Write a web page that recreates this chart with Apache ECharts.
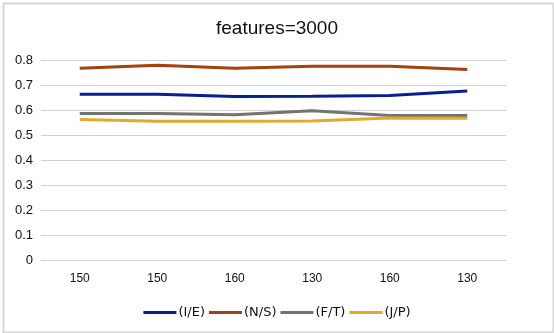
<!DOCTYPE html>
<html>
<head>
<meta charset="utf-8">
<script src="https://cdn.jsdelivr.net/npm/echarts@6/dist/echarts.min.js"></script>
<style>html,body{margin:0;padding:0;background:#fff}#c{width:554px;height:333px}</style>
</head>
<body>
<div id="c"></div>
<script>
const categories = ['150', '150', '160', '130', '160', '130'];
const seriesNames = ['(I/E)', '(N/S)', '(F/T)', '(J/P)'];
const valsIE = [0.663, 0.663, 0.654, 0.655, 0.658, 0.676];
const valsNS = [0.767, 0.779, 0.767, 0.775, 0.775, 0.762];
const valsFT = [0.586, 0.586, 0.581, 0.597, 0.578, 0.578];
const valsJP = [0.562, 0.555, 0.555, 0.556, 0.568, 0.567];
const colors = ['#0a1f8f', '#a3410f', '#737373', '#e2aa2a'];

const chart = echarts.init(document.getElementById('c'), null, {renderer: 'canvas'});
const font = 'Liberation Sans, Arial, sans-serif';
const font2 = 'DejaVu Sans, sans-serif';
const allVals = [valsIE, valsNS, valsFT, valsJP];
chart.setOption({
  animation: false,
  color: colors,
  title: {
    text: 'features=3000', left: 'center', top: 14,
    textStyle: {fontFamily: font, fontSize: 19, fontWeight: 'normal', color: '#111'}
  },
  graphic: [{
    type: 'rect', left: 1, top: 1, silent: true,
    shape: {width: 550, height: 329},
    style: {fill: 'none', stroke: '#d6d6d6', lineWidth: 2}
  }],
  grid: {left: 41, right: 48, top: 60, bottom: 73},
  legend: {
    top: 301, left: 'center', itemGap: 4, itemWidth: 33, itemHeight: 3,
    icon: 'rect',
    textStyle: {fontFamily: font2, fontSize: 13, color: '#111', padding: [0, 0, 0, -3]},
    data: seriesNames
  },
  xAxis: {
    type: 'category', data: categories, boundaryGap: true,
    axisLine: {show: false}, axisTick: {show: false},
    axisLabel: {fontFamily: font, fontSize: 12, color: '#111', margin: 13}
  },
  yAxis: {
    type: 'value', min: 0, max: 0.8, interval: 0.1,
    axisLine: {show: false}, axisTick: {show: false},
    axisLabel: {fontFamily: font, fontSize: 13, color: '#111', margin: 8,
      formatter: v => v === 0 ? '0' : v.toFixed(1)},
    splitLine: {lineStyle: {color: '#d0d0d0', width: 1}}
  },
  series: seriesNames.map((n, i) => ({
    name: n, type: 'line', data: allVals[i], symbol: 'none',
    lineStyle: {width: 3, color: colors[i]}, itemStyle: {color: colors[i]}
  }))
});
</script>
</body>
</html>
